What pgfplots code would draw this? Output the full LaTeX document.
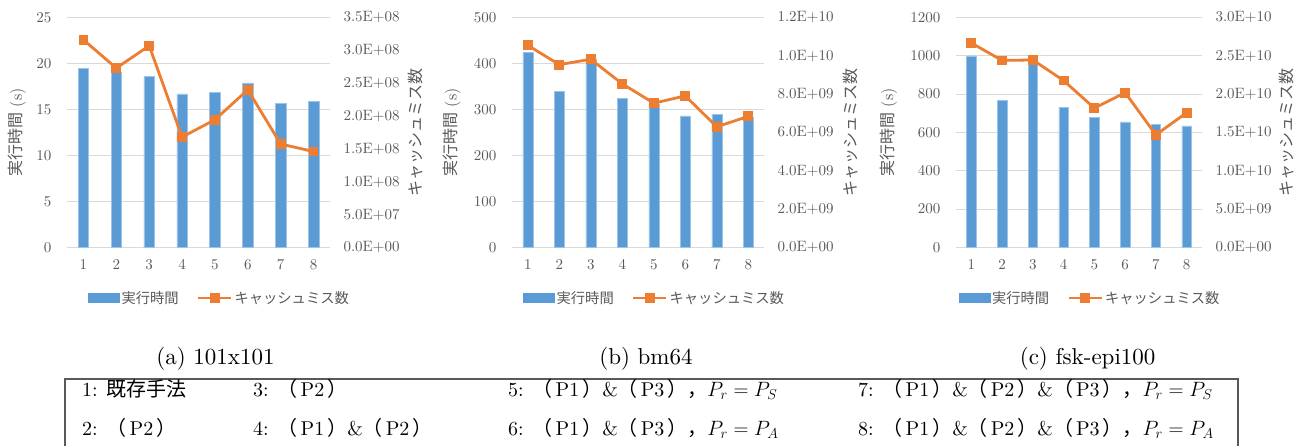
\documentclass[border=0pt]{standalone}
\usepackage{fontspec}
\setmainfont{lmroman10-regular.otf}[
  BoldFont=lmroman10-bold.otf,
  ItalicFont=lmroman10-italic.otf]
\usepackage{pgfplots}
\pgfplotsset{compat=1.18}
\newfontfamily\jpfont{Noto Sans CJK JP}
\newcommand\jp[1]{{\jpfont #1}}
\newcommand\pp[1]{\jp{（}\hspace{3pt}#1\hspace{3pt}\jp{）}}

\definecolor{barblue}{HTML}{5B9BD5}
\definecolor{baredge}{HTML}{9DC3E6}
\definecolor{lineorange}{HTML}{ED7D31}
\definecolor{gridgray}{HTML}{D9D9D9}
\definecolor{labelgray}{HTML}{595959}

% run time (s) and cache misses per configuration
\pgfplotstableread{
x t m
1 19.5  3.16e8
2 19.0  2.73e8
3 18.6  3.07e8
4 16.7  1.68e8
5 16.85 1.945e8
6 17.9  2.40e8
7 15.7  1.575e8
8 15.9  1.46e8
}\dataA
\pgfplotstableread{
x t m
1 424 10.55e9
2 339 9.54e9
3 410 9.82e9
4 324 8.54e9
5 312 7.53e9
6 286 7.91e9
7 290 6.30e9
8 283 6.84e9
}\dataB
\pgfplotstableread{
x t m
1 1000 26.67e9
2 769  24.40e9
3 980  24.46e9
4 732  21.77e9
5 680  18.18e9
6 656  20.20e9
7 644  14.70e9
8 634  17.58e9
}\dataC

\pgfplotsset{
  common/.style={
    scale only axis, height=230pt, anchor=south west,
    xmin=0.5, xmax=8.5, xtick={1,...,8},
    axis line style={draw=none}, tick style={draw=none},
    tick label style={font=\fontsize{15}{17}\selectfont, text=labelgray},
    /pgf/number format/assume math mode=true,
    /pgf/number format/1000 sep={},
    label style={font=\fontsize{16}{18}\selectfont, text=labelgray},
  },
  leftax/.style={
    common, axis y line*=left, axis x line*=bottom,
    ymajorgrids, grid style={gridgray, line width=1.2pt},
    ymin=0,
    yticklabel style={xshift=-12pt},
    xticklabel style={yshift=-8pt},
    ylabel={\jp{実行時間} (s)},
  },
  rightax/.style={
    common, axis y line*=right, axis x line=none,
    ymin=0, scaled y ticks=false,
    yticklabel style={xshift=10pt, anchor=west},
    ylabel={\jp{キャッシュミス数}},
    legend columns=2,
    legend style={draw=none, fill=none, font=\fontsize{14.3}{16}\selectfont\jpfont,
      text=labelgray, /tikz/every even column/.append style={column sep=16pt},
      anchor=center},
  },
  bars/.style={ybar, fill=barblue, draw=baredge, line width=0.5pt},
  missline/.style={lineorange, line width=2.8pt, mark=square*, mark size=4.4pt,
    mark options={solid, fill=lineorange, draw=lineorange, line width=0pt},
    legend image code/.code={\draw[mark repeat=2, mark phase=2, ##1]
      plot coordinates {(0pt,0pt) (16.5pt,0pt) (33pt,0pt)};}},
  barlegend/.style={legend image code/.code={\fill[barblue] (0pt,-4.5pt) rectangle (31pt,4.5pt);}},
}

\begin{document}
\begin{tikzpicture}
\useasboundingbox (0,0) rectangle (1303pt,446pt);

% (a) 101x101
\begin{axis}[leftax, at={(67pt,198.5pt)}, width=263pt, bar width=10.6pt,
  ymax=25, ytick={0,5,...,25},
  ylabel style={at={(axis description cs:-0.19,0.5)}, anchor=center}]
  \addplot[bars] table[x=x, y=t] {\dataA};
\end{axis}
\begin{axis}[rightax, at={(67pt,198.5pt)}, width=263pt,
  ymax=3.5e8, ytick={0,5e7,1e8,1.5e8,2e8,2.5e8,3e8,3.5e8},
  yticklabels={0.0E+00,5.0E+07,1.0E+08,1.5E+08,2.0E+08,2.5E+08,3.0E+08,3.5E+08},
  ylabel style={at={(axis description cs:1.327,0.5)}, anchor=center},
  legend style={at={(axis description cs:0.58,-0.22)}}]
  \addlegendimage{barlegend}
  \addlegendentry{実行時間}
  \addplot[missline] table[x=x, y=m] {\dataA};
  \addlegendentry{キャッシュミス数}
\end{axis}

% (b) bm64
\begin{axis}[leftax, at={(512pt,198.5pt)}, width=252pt, bar width=10pt,
  ymax=500, ytick={0,100,...,500},
  ylabel style={at={(axis description cs:-0.239,0.5)}, anchor=center}]
  \addplot[bars] table[x=x, y=t] {\dataB};
\end{axis}
\begin{axis}[rightax, at={(512pt,198.5pt)}, width=252pt,
  ymax=1.2e10, ytick={0,2e9,4e9,6e9,8e9,1e10,1.2e10},
  yticklabels={0.0E+00,2.0E+09,4.0E+09,6.0E+09,8.0E+09,1.0E+10,1.2E+10},
  ylabel style={at={(axis description cs:1.344,0.5)}, anchor=center},
  legend style={at={(axis description cs:0.566,-0.22)}}]
  \addlegendimage{barlegend}
  \addlegendentry{実行時間}
  \addplot[missline] table[x=x, y=m] {\dataB};
  \addlegendentry{キャッシュミス数}
\end{axis}

% (c) fsk-epi100
\begin{axis}[leftax, at={(956pt,198.5pt)}, width=246pt, bar width=9.7pt,
  ymax=1200, ytick={0,200,...,1200},
  ylabel style={at={(axis description cs:-0.275,0.5)}, anchor=center}]
  \addplot[bars] table[x=x, y=t] {\dataC};
\end{axis}
\begin{axis}[rightax, at={(956pt,198.5pt)}, width=246pt,
  ymax=3e10, ytick={0,5e9,1e10,1.5e10,2e10,2.5e10,3e10},
  yticklabels={0.0E+00,5.0E+09,1.0E+10,1.5E+10,2.0E+10,2.5E+10,3.0E+10},
  ylabel style={at={(axis description cs:1.344,0.5)}, anchor=center},
  legend style={at={(axis description cs:0.545,-0.22)}}]
  \addlegendimage{barlegend}
  \addlegendentry{実行時間}
  \addplot[missline] table[x=x, y=m] {\dataC};
  \addlegendentry{キャッシュミス数}
\end{axis}

% sub-captions
\begin{scope}[every node/.style={font=\fontsize{23}{25}\selectfont, anchor=base, inner sep=0pt}]
  \node at (215.5pt,81.7pt) {(a) 101x101};
  \node at (646pt,81.7pt) {(b) bm64};
  \node at (1087.6pt,81.7pt) {(c) fsk-epi100};
\end{scope}

% configuration key
\draw[black!65, line width=1.1pt] (65pt,-5pt) -- (65pt,67pt) -- (1238pt,67pt) -- (1238pt,-5pt);
\begin{scope}[every node/.style={font=\fontsize{20}{22}\selectfont, anchor=base west, inner sep=0pt}]
  \node at (82pt,49.5pt) {1: \jp{既存手法}};
  \node at (82pt,10.5pt) {2: \pp{P2}};
  \node at (253pt,49.5pt) {3: \pp{P2}};
  \node at (253pt,10.5pt) {4: \pp{P1}\&\pp{P2}};
  \node at (508pt,49.5pt) {5: \pp{P1}\&\pp{P3}\jp{，}$P_r = P_S$};
  \node at (508pt,10.5pt) {6: \pp{P1}\&\pp{P3}\jp{，}$P_r = P_A$};
  \node at (858pt,49.5pt) {7: \pp{P1}\&\pp{P2}\&\pp{P3}\jp{，}$P_r = P_S$};
  \node at (858pt,10.5pt) {8: \pp{P1}\&\pp{P2}\&\pp{P3}\jp{，}$P_r = P_A$};
\end{scope}
\end{tikzpicture}
\end{document}
